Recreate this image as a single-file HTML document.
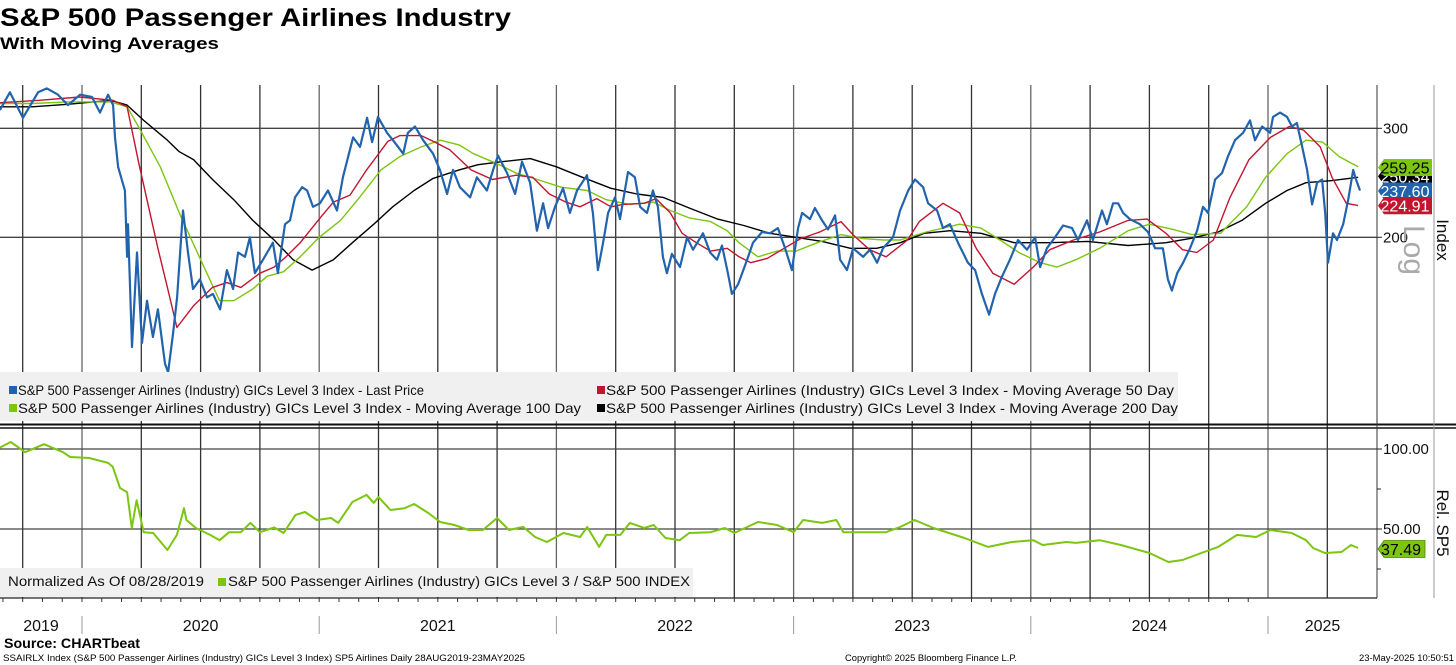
<!DOCTYPE html>
<html><head><meta charset="utf-8"><style>
html,body{margin:0;padding:0;background:#fff;}
svg{display:block;font-family:"Liberation Sans","DejaVu Sans",sans-serif;}
</style></head><body>
<svg id="chart" width="1456" height="665" viewBox="0 0 1456 665" xmlns="http://www.w3.org/2000/svg">
<text x="0" y="26" font-size="25" font-weight="bold" textLength="511" lengthAdjust="spacingAndGlyphs">S&amp;P 500 Passenger Airlines Industry</text>
<text x="0" y="49" font-size="17" font-weight="bold" textLength="219" lengthAdjust="spacingAndGlyphs">With Moving Averages</text>
<g id="grid"></g>
<g id="series"></g>
<g id="legends"></g>
<g id="axes"></g>
<text x="4" y="648" font-size="14" font-weight="bold" textLength="136" lengthAdjust="spacingAndGlyphs">Source: CHARTbeat</text>
<text x="3" y="661" font-size="9" textLength="522" lengthAdjust="spacingAndGlyphs">SSAIRLX Index (S&amp;P 500 Passenger Airlines (Industry) GICs Level 3 Index) SP5 Airlines  Daily 28AUG2019-23MAY2025</text>
<text x="845" y="661" font-size="9" textLength="172" lengthAdjust="spacingAndGlyphs">Copyright© 2025 Bloomberg Finance L.P.</text>
<text x="1359" y="661" font-size="9" textLength="95" lengthAdjust="spacingAndGlyphs">23-May-2025 10:50:51</text>
</svg>
<script>
// ---- data ----
const priceDates=[2019.654,2019.696,2019.751,2019.815,2019.852,2019.899,2019.941,2019.992,2020.042,2020.076,2020.110,2020.131,2020.139,2020.152,2020.181,2020.190,2020.194,2020.211,2020.232,2020.253,2020.274,2020.299,2020.320,2020.350,2020.363,2020.384,2020.401,2020.426,2020.447,2020.468,2020.497,2020.527,2020.552,2020.582,2020.611,2020.637,2020.658,2020.687,2020.708,2020.729,2020.763,2020.805,2020.826,2020.856,2020.877,2020.898,2020.928,2020.949,2020.974,2021.003,2021.037,2021.075,2021.100,2021.143,2021.172,2021.202,2021.223,2021.248,2021.286,2021.311,2021.354,2021.374,2021.404,2021.438,2021.480,2021.509,2021.539,2021.564,2021.593,2021.636,2021.665,2021.707,2021.733,2021.754,2021.792,2021.826,2021.855,2021.889,2021.918,2021.944,2021.965,2021.994,2022.028,2022.057,2022.087,2022.129,2022.154,2022.175,2022.197,2022.218,2022.247,2022.268,2022.302,2022.331,2022.353,2022.382,2022.407,2022.428,2022.449,2022.466,2022.487,2022.521,2022.551,2022.576,2022.618,2022.648,2022.677,2022.698,2022.723,2022.740,2022.766,2022.804,2022.829,2022.867,2022.901,2022.934,2022.964,2022.993,2023.019,2023.036,2023.069,2023.090,2023.120,2023.145,2023.175,2023.196,2023.225,2023.251,2023.293,2023.322,2023.352,2023.377,2023.419,2023.449,2023.483,2023.512,2023.546,2023.567,2023.605,2023.630,2023.659,2023.693,2023.735,2023.765,2023.794,2023.824,2023.849,2023.879,2023.912,2023.946,2023.984,2024.018,2024.039,2024.068,2024.102,2024.136,2024.174,2024.199,2024.237,2024.262,2024.300,2024.321,2024.347,2024.368,2024.389,2024.418,2024.460,2024.494,2024.524,2024.557,2024.578,2024.595,2024.617,2024.642,2024.671,2024.701,2024.726,2024.747,2024.777,2024.806,2024.831,2024.861,2024.895,2024.924,2024.945,2024.975,2025.009,2025.021,2025.051,2025.080,2025.101,2025.122,2025.144,2025.165,2025.186,2025.207,2025.228,2025.241,2025.253,2025.274,2025.291,2025.317,2025.338,2025.359,2025.371,2025.388];
const priceValues=[321,343,312,343,348,340,327,340,337,318,340,327,290,260,238,186,210,133,189,135,158,138,153,125,121,140,160,221,189,165,171,160,162,153,177,165,189,186,200,175,184,196,175,210,213,232,241,238,224,227,238,221,250,290,280,312,285,313,295,287,273,295,302,287,273,257,235,257,241,232,250,238,257,271,254,235,265,245,205,227,207,224,240,219,238,252,219,177,196,219,232,214,255,250,224,219,238,224,186,175,188,179,200,191,203,189,184,194,175,162,168,184,196,204,203,207,192,177,207,219,214,223,213,206,217,184,177,192,186,191,182,192,200,221,238,248,241,227,221,207,210,196,182,177,162,150,162,173,184,198,191,200,179,192,200,209,207,198,213,198,221,210,227,227,219,214,210,204,192,192,171,164,175,182,192,205,224,219,248,254,270,287,295,309,287,302,295,313,318,313,302,306,280,257,226,245,248,219,182,203,198,210,230,257,248,238];
const ma50Dates=[2019.65,2019.82,2019.99,2020.13,2020.19,2020.24,2020.32,2020.36,2020.40,2020.47,2020.55,2020.61,2020.67,2020.75,2020.81,2020.86,2020.92,2021.00,2021.06,2021.13,2021.20,2021.29,2021.34,2021.43,2021.48,2021.55,2021.64,2021.73,2021.83,2021.90,2021.97,2022.04,2022.10,2022.17,2022.23,2022.28,2022.37,2022.42,2022.48,2022.53,2022.59,2022.65,2022.72,2022.77,2022.82,2022.89,2022.96,2023.03,2023.11,2023.20,2023.25,2023.32,2023.39,2023.48,2023.53,2023.63,2023.70,2023.77,2023.84,2023.93,2024.01,2024.08,2024.18,2024.29,2024.41,2024.49,2024.57,2024.64,2024.70,2024.77,2024.84,2024.92,2025.01,2025.09,2025.15,2025.22,2025.27,2025.33,2025.38];
const ma50Values=[330,333,337,333,325,263,192,166,143,155,166,169,166,175,179,186,196,214,228,234,257,286,292,292,286,277,257,248,252,250,235,228,224,231,224,226,227,231,219,203,196,190,192,186,182,185,192,199,204,212,202,191,186,198,212,227,219,192,175,168,179,191,198,204,213,214,203,191,189,198,232,267,290,302,298,280,250,227,225];
const ma100Dates=[2019.65,2019.79,2019.94,2020.12,2020.19,2020.24,2020.33,2020.41,2020.50,2020.58,2020.64,2020.72,2020.78,2020.85,2020.92,2021.00,2021.09,2021.17,2021.26,2021.34,2021.43,2021.51,2021.59,2021.65,2021.75,2021.83,2021.92,2022.02,2022.13,2022.21,2022.31,2022.41,2022.48,2022.56,2022.65,2022.72,2022.77,2022.85,2022.93,2023.01,2023.10,2023.20,2023.29,2023.38,2023.45,2023.56,2023.70,2023.79,2023.87,2023.95,2024.04,2024.11,2024.19,2024.29,2024.41,2024.50,2024.60,2024.68,2024.80,2024.91,2024.99,2025.08,2025.16,2025.23,2025.30,2025.38];
const ma100Values=[329,329,331,331,325,301,260,219,184,158,158,165,173,176,186,200,213,232,257,270,280,287,282,273,263,254,248,241,238,230,226,228,221,215,212,205,196,186,190,190,196,202,199,198,198,204,210,207,198,189,182,179,184,192,205,210,206,202,203,224,250,273,287,285,270,260];
const ma200Dates=[2019.65,2019.79,2019.94,2020.12,2020.19,2020.26,2020.36,2020.41,2020.47,2020.55,2020.64,2020.72,2020.81,2020.89,2020.97,2021.06,2021.14,2021.23,2021.31,2021.40,2021.48,2021.59,2021.67,2021.77,2021.89,2022.00,2022.11,2022.23,2022.34,2022.45,2022.56,2022.68,2022.79,2022.90,2023.01,2023.12,2023.24,2023.35,2023.45,2023.55,2023.66,2023.79,2023.93,2024.08,2024.24,2024.41,2024.57,2024.67,2024.79,2024.89,2024.99,2025.08,2025.16,2025.27,2025.38];
const ma200Values=[325,325,328,333,327,309,287,275,267,248,230,213,198,184,177,184,196,210,224,238,249,257,262,265,268,260,250,240,235,232,223,214,209,203,200,197,192,192,196,203,205,203,196,196,197,194,196,199,204,213,227,238,245,247,250];
const relDates=[2019.65,2019.70,2019.76,2019.84,2019.92,2019.95,2020.03,2020.11,2020.13,2020.16,2020.19,2020.21,2020.23,2020.26,2020.30,2020.36,2020.40,2020.43,2020.44,2020.48,2020.54,2020.58,2020.62,2020.67,2020.71,2020.75,2020.81,2020.85,2020.90,2020.94,2020.99,2021.05,2021.08,2021.14,2021.20,2021.23,2021.25,2021.30,2021.36,2021.40,2021.46,2021.51,2021.57,2021.63,2021.69,2021.75,2021.80,2021.86,2021.91,2021.96,2022.03,2022.10,2022.13,2022.18,2022.21,2022.27,2022.31,2022.37,2022.41,2022.46,2022.52,2022.56,2022.65,2022.71,2022.75,2022.85,2022.93,2023.00,2023.04,2023.12,2023.18,2023.21,2023.28,2023.39,2023.45,2023.51,2023.59,2023.72,2023.82,2023.92,2024.01,2024.05,2024.15,2024.19,2024.29,2024.38,2024.50,2024.58,2024.64,2024.73,2024.79,2024.87,2024.95,2025.01,2025.10,2025.16,2025.19,2025.24,2025.31,2025.35,2025.38];
const relValues=[100.6,104.4,98,103,98,95,94.4,91.3,88.8,75.6,73,50.6,68,48,47.5,36.9,46.3,63,55.6,50.6,46.3,43,48,48,53.8,48,51,47.5,58.8,60.6,55.6,56.9,53.8,66.9,71.3,66.3,70,61.9,63,65.6,60,54.4,52.5,49.4,49.4,56.9,49.4,51.3,45,41.9,47.5,45,51.3,38.8,46.3,46.3,53.8,50.6,52.5,44.4,43,47.5,48,50.6,47.5,54.4,52.5,48,55.6,53.8,55.6,48,48,48,51.3,55.6,50.6,44.4,38.8,41.9,43,40,41.9,41.3,43,40,35,29.4,30.6,35.6,38.8,46.3,45,49.4,47.5,43,38.1,35,35.6,40,38.1];
const topTicks=[200,300];
const botTicks=[50,100];
const botTickLabels=["50.00","100.00"];
const yearLabels=["2019","2020","2021","2022","2023","2024","2025"];
const yearStarts=[2019,2020,2021,2022,2023,2024,2025];
const lastLabels=["259.25","237.60","224.91"];
const lastRel="37.49";

// ---- scales ----
const X0=82, YEARPX=237.2, PLOT_R=1377;
const xS=t=>X0+(t-2020)*YEARPX;
const yTop=v=>237.3-268.8*Math.log(v/200);
const yBot=v=>449+(100-v)*1.6;
const NS="http://www.w3.org/2000/svg";
function mk(tag,attrs,parent){const e=document.createElementNS(NS,tag);for(const k in attrs)e.setAttribute(k,attrs[k]);parent.appendChild(e);return e;}
const grid=document.getElementById('grid'),series=document.getElementById('series'),legends=document.getElementById('legends'),axes=document.getElementById('axes');

// vertical quarterly gridlines
for(let y=2019;y<=2025;y++){for(let q=0;q<4;q++){const t=y+q*0.25;const x=xS(t);if(x<5||x>PLOT_R)continue;
 const l=mk('line',{x1:x,x2:x,y1:85,y2:598,stroke:(q==0?'#666':'#333'),'stroke-width':1.3},grid);
 
 }}
topTicks.forEach(v=>{const l=mk('line',{x1:0,x2:PLOT_R,y1:yTop(v),y2:yTop(v),stroke:'#444','stroke-width':1.3},grid);
 
 });
botTicks.forEach(v=>{const l=mk('line',{x1:0,x2:PLOT_R,y1:yBot(v),y2:yBot(v),stroke:'#444','stroke-width':1.3},grid);
 
 });

function path(dates,vals,ys,color,w,name){let d='';dates.forEach((t,i)=>{d+=(i?'L':'M')+xS(t).toFixed(1)+','+ys(vals[i]).toFixed(1);});
 const p=mk('path',{d:d,fill:'none',stroke:color,'stroke-width':w,'stroke-linejoin':'round'},series);
 
 }
const cp=mk('clipPath',{id:'topclip'},series);mk('rect',{x:0,y:85,width:PLOT_R,height:338},cp);
path(ma200Dates,ma200Values,yTop,'#000',1.4,'ma-200-line');
path(ma100Dates,ma100Values,yTop,'#7cc510',1.4,'ma-100-line');
path(ma50Dates,ma50Values,yTop,'#c21530',1.4,'ma-50-line');
path(priceDates,priceValues,yTop,'#2263ad',2.2,'last-price-line');
path(relDates,relValues,yBot,'#7cc510',2,'relative-sp5-line');

// legends
const lg1=mk('rect',{x:0,y:372,width:1178,height:49,fill:'#f0f0f0'},legends);


const ent=[[9,390,'#2263ad','S&P 500 Passenger Airlines (Industry) GICs Level 3 Index - Last Price',406],
[597,390,'#c21530','S&P 500 Passenger Airlines (Industry) GICs Level 3 Index - Moving Average 50 Day',568],
[9,408,'#7cc510','S&P 500 Passenger Airlines (Industry) GICs Level 3 Index - Moving Average 100 Day',563],
[597,408,'#000','S&P 500 Passenger Airlines (Industry) GICs Level 3 Index - Moving Average 200 Day',572]];
ent.forEach(e=>{const r=mk('rect',{x:e[0],y:e[1]-4,width:8,height:8,fill:e[2]},legends);
 
 
 const t=mk('text',{x:e[0]+9,y:e[1]+5,'font-size':14,fill:'#111',textLength:e[4],lengthAdjust:'spacingAndGlyphs'},legends);t.textContent=e[3];
 
 });
const lg2=mk('rect',{x:0,y:568,width:693,height:29,fill:'#f0f0f0'},legends);


let t2=mk('text',{x:8,y:586,'font-size':14,fill:'#111',textLength:196,lengthAdjust:'spacingAndGlyphs'},legends);t2.textContent='Normalized As Of 08/28/2019';


const r2=mk('rect',{x:218,y:578,width:8,height:8,fill:'#7cc510'},legends);


t2=mk('text',{x:228,y:586,'font-size':14,fill:'#111',textLength:462,lengthAdjust:'spacingAndGlyphs'},legends);t2.textContent='S&P 500 Passenger Airlines (Industry) GICs Level 3 / S&P 500 INDEX';



// panel separators and axes
function ln(x1,y1,x2,y2,c,w,name){const l=mk('line',{x1:x1,y1:y1,x2:x2,y2:y2,stroke:c,'stroke-width':w},axes);
 
 }
ln(0,424.5,1456,424.5,'#111',2,'panel-separator');
ln(0,428,1456,428,'#111',1.5,'panel-separator');
ln(PLOT_R,85,PLOT_R,598,'#333',1,'right-axis-line');
ln(1434,85,1434,598,'#999',1,'right-border');
ln(0,598,PLOT_R,598,'#222',1.3,'x-axis-line');
function txt(x,y,s,size,opts,name){const t=mk('text',Object.assign({x:x,y:y,'font-size':size,fill:'#111'},opts||{}),axes);t.textContent=s;
 
 return t;}
topTicks.forEach(v=>{ln(PLOT_R,yTop(v),PLOT_R+5,yTop(v),'#222',1,'y-tick');txt(PLOT_R+6,yTop(v)+5,String(v),15,{},'top-y-tick-label');});
botTicks.forEach((v,i)=>{ln(PLOT_R,yBot(v),PLOT_R+5,yBot(v),'#222',1,'y-tick');txt(PLOT_R+6,yBot(v)+5,botTickLabels[i],15,{},'bottom-y-tick-label');});
[75,25].forEach(v=>ln(PLOT_R,yBot(v),PLOT_R+4,yBot(v),'#222',1,'minor-y-tick'));
txt(1437,240,'Index',17,{transform:'rotate(90 1437 240)','text-anchor':'middle'},'top-y-axis-title');
txt(1404,250,'Log',30,{transform:'rotate(90 1404 250)','text-anchor':'middle',fill:'#aaa'},'log-scale-label');
txt(1437,523,'Rel. SP5',17,{transform:'rotate(90 1437 523)','text-anchor':'middle'},'bottom-y-axis-title');
// monthly ticks
for(let m=0;m<72;m++){const t=2019+m/12;const x=xS(t);if(x<2||x>PLOT_R)continue;ln(x,598,x,602,'#333',1,'x-minor-tick');}
// year separators and labels
yearStarts.forEach((y,i)=>{const x1=Math.max(0,xS(y)),x2=Math.min(PLOT_R,xS(y+1));
 if(xS(y)>0)ln(xS(y),616,xS(y),634,'#999',1,'year-separator');
 txt((x1+x2)/2,631,yearLabels[i],16,{'text-anchor':'middle'},'x-year-label');});

// last value tags
function tag(y,label,bg,fg,name){const g=mk('g',{},axes);
 
 
 mk('path',{d:`M${PLOT_R+1},${y} L${PLOT_R+7},${y-8.5} L1432,${y-8.5} L1432,${y+8.5} L${PLOT_R+7},${y+8.5} Z`,fill:bg},g);
 const t=mk('text',{x:1405,y:y+6,'font-size':16,fill:fg,'text-anchor':'middle'},g);t.textContent=label;}
tag(yTop(250)-1,'250.34','#000','#fff','last-value-ma200');
tag(yTop(259.25),lastLabels[0],'#7cc510','#000','last-value-ma100');
tag(yTop(237.6),lastLabels[1],'#2263ad','#fff','last-value-price');
tag(yTop(224.91),lastLabels[2],'#c21530','#fff','last-value-ma50');
const gR=mk('g',{},axes);


const yr=yBot(37.49);
mk('path',{d:`M${PLOT_R+1},${yr} L${PLOT_R+7},${yr-8.5} L1425,${yr-8.5} L1425,${yr+8.5} L${PLOT_R+7},${yr+8.5} Z`,fill:'#7cc510',stroke:'#4a8a00','stroke-width':0.8},gR);
const tr=mk('text',{x:1401,y:yr+6,'font-size':16,fill:'#000','text-anchor':'middle'},gR);tr.textContent=lastRel;
</script>
</body></html>
